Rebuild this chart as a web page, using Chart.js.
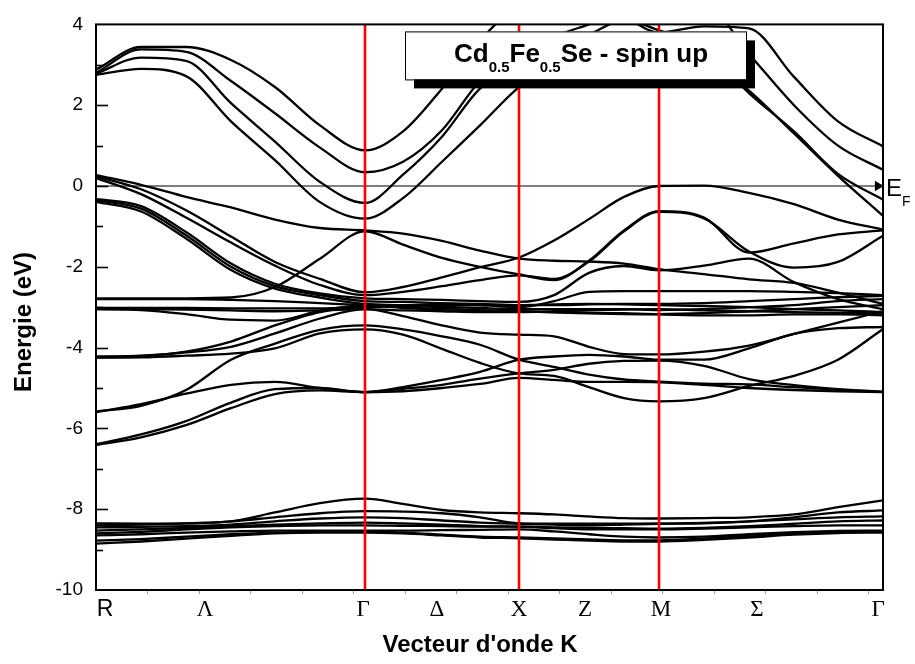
<!DOCTYPE html>
<html>
<head>
<meta charset="utf-8">
<title>Cd0.5Fe0.5Se - spin up</title>
<script src="https://cdn.jsdelivr.net/npm/chart.js@4.4.1/dist/chart.umd.min.js"></script>
<style>
  html, body { margin: 0; padding: 0; background: #fff; }
  #wrap { width: 915px; height: 664px; }
</style>
</head>
<body>
<div id="wrap"><canvas id="bands" width="915" height="664"></canvas></div>
<script>
// k along the path R - Γ - X - M - Γ (fraction of path length)
var kPath = [0, 0.0572, 0.1144, 0.1715, 0.2274, 0.2846, 0.3418, 0.3901, 0.4396, 0.4879,
             0.5375, 0.5820, 0.6264, 0.6709, 0.7154, 0.7726, 0.8297, 0.8869, 0.9428, 1];
var symPoints = [0.3418, 0.5375, 0.7154];   // Γ, X, M
var kLabels = ["R", "Λ", "Γ", "Δ", "X", "Z", "M", "Σ", "Γ"];
var kLabelPos = [0.0114, 0.1385, 0.3393, 0.4333, 0.5375, 0.6213, 0.7179, 0.8399, 0.9937];
var kMark = 0.0654;   // spacing of the small marks under the k axis

// conduction bands (eV)
var cb1 = [2.75, 2.90, 2.72, 1.60, 0.64, -0.40, -0.81, -0.30, 0.60, 1.50, 2.45, 3.00, 3.35, 3.50, 3.55, 3.20, 2.36, 1.30, 0.25, -0.74];
var cb2 = [2.78, 3.18, 3.10, 2.05, 1.10, 0.10, -0.42, 0.28, 1.22, 2.41, 3.00, 3.40, 3.75, 4.10, 3.85, 3.40, 2.30, 1.35, 0.30, -0.34];
var cb3 = [2.80, 3.38, 3.32, 2.60, 1.80, 0.95, 0.34, 0.60, 1.38, 2.60, 3.30, 3.70, 4.00, 4.30, 4.50, 4.50, 3.27, 2.00, 1.00, 0.40];
var cb4 = [2.88, 3.44, 3.44, 3.12, 2.45, 1.50, 0.88, 1.35, 2.41, 3.60, 4.50, 4.80, 4.60, 4.20, 3.80, 3.95, 3.90, 2.70, 1.60, 0.98];

// valence bands
var vb1   = [0.24, -0.08, -0.60, -1.25, -1.88, -2.30, -2.63, -2.50, -2.26, -2.01, -1.77, -1.35, -0.82, -0.27, 0.00, 0.01, -0.17, -0.45, -0.83, -1.08];
var vbA   = [0.27, 0.03, -0.27, -0.53, -0.83, -1.04, -1.10, -1.18, -1.36, -1.60, -1.80, -1.85, -1.87, -1.92, -2.06, -2.18, -2.31, -2.40, -2.64, -2.92];
var vbG   = [-2.78, -2.78, -2.78, -2.76, -2.50, -1.80, -1.12, -1.45, -1.78, -2.00, -2.19, -2.33, -1.85, -1.10, -0.62, -0.78, -1.65, -1.42, -1.20, -1.10];
var vbC   = [0.20, -0.20, -0.78, -1.40, -1.97, -2.45, -2.70, -2.62, -2.48, -2.33, -2.21, -2.30, -1.87, -1.12, -0.64, -0.80, -1.62, -2.02, -1.88, -1.23];
var vbD   = [-0.32, -0.50, -1.14, -1.92, -2.42, -2.66, -2.78, -2.80, -2.82, -2.85, -2.87, -2.70, -2.15, -1.98, -2.09, -1.97, -1.80, -2.38, -2.80, -3.05];
var vbE   = [-0.35, -0.56, -1.22, -2.00, -2.48, -2.70, -2.85, -2.87, -2.90, -2.92, -2.95, -2.95, -2.93, -2.92, -2.92, -2.90, -2.85, -2.80, -2.75, -2.72];
var vbF   = [-0.39, -0.63, -1.30, -2.08, -2.54, -2.76, -2.92, -2.95, -3.00, -3.02, -3.05, -3.05, -3.05, -3.05, -3.07, -3.05, -3.00, -2.95, -2.85, -2.80];
var flat1 = [-2.80, -2.80, -2.80, -2.82, -2.85, -2.90, -2.95, -3.00, -3.05, -3.08, -3.10, -3.12, -3.14, -3.15, -3.17, -3.15, -3.10, -3.05, -3.00, -2.95];
var flat2 = [-3.02, -3.02, -3.02, -3.03, -3.03, -3.03, -3.00, -2.98, -2.97, -2.95, -2.95, -2.93, -2.92, -2.93, -2.95, -2.97, -3.00, -3.05, -3.08, -3.12];
var flat3 = [-3.05, -3.05, -3.06, -3.08, -3.10, -3.08, -3.05, -3.08, -3.10, -3.12, -3.12, -3.10, -3.08, -3.06, -3.05, -3.08, -3.10, -3.12, -3.14, -3.15];
var flat4 = [-3.05, -3.07, -3.17, -3.31, -3.33, -3.09, -2.95, -3.02, -3.05, -3.08, -3.10, -3.13, -3.15, -3.17, -3.18, -3.20, -3.20, -3.18, -3.18, -3.20];
var vbK1  = [-4.22, -4.20, -4.12, -3.98, -3.65, -3.28, -3.05, -3.22, -3.45, -3.63, -3.68, -3.72, -3.98, -4.16, -4.17, -4.10, -3.95, -3.66, -3.38, -3.10];
var vbK2  = [-4.24, -4.21, -4.10, -3.85, -3.45, -3.12, -2.97, -2.95, -2.93, -2.95, -3.00, -2.85, -2.62, -2.60, -2.60, -2.60, -2.60, -2.62, -2.65, -2.70];
var vbM1  = [-5.58, -5.44, -5.05, -4.30, -3.90, -3.56, -3.45, -3.55, -3.72, -3.93, -4.30, -4.48, -4.67, -4.79, -4.84, -4.89, -4.91, -4.98, -5.04, -5.09];
var vbM2  = [-4.25, -4.24, -4.20, -4.15, -4.02, -3.65, -3.55, -3.68, -4.03, -4.38, -4.64, -4.70, -4.98, -5.25, -5.33, -5.25, -4.95, -4.70, -4.30, -3.54];
var vbM3  = [-5.60, -5.40, -5.14, -4.92, -4.85, -5.00, -5.10, -4.98, -4.80, -4.60, -4.30, -4.22, -4.18, -4.22, -4.30, -4.30, -4.02, -3.66, -3.52, -3.49];
var vbM4  = [-6.39, -6.15, -5.82, -5.36, -5.03, -5.00, -5.10, -5.02, -4.92, -4.77, -4.64, -4.55, -4.40, -4.33, -4.32, -4.45, -4.78, -4.93, -5.03, -5.10];
var vbM5  = [-6.41, -6.22, -5.92, -5.50, -5.15, -5.06, -5.10, -5.08, -5.00, -4.90, -4.75, -4.80, -4.85, -4.85, -4.86, -4.92, -5.00, -5.05, -5.08, -5.10];

// deep bands around -8.5 eV
var low1 = [-8.40, -8.38, -8.35, -8.30, -8.08, -7.85, -7.74, -7.87, -8.02, -8.08, -8.10, -8.13, -8.18, -8.22, -8.23, -8.22, -8.20, -8.13, -7.95, -7.78];
var low2 = [-8.35, -8.36, -8.35, -8.30, -8.20, -8.10, -8.05, -8.06, -8.10, -8.20, -8.35, -8.36, -8.36, -8.36, -8.36, -8.34, -8.30, -8.20, -8.08, -8.03];
var low3 = [-8.45, -8.44, -8.42, -8.38, -8.30, -8.23, -8.20, -8.22, -8.28, -8.33, -8.36, -8.38, -8.40, -8.38, -8.36, -8.35, -8.30, -8.25, -8.20, -8.18];
var low4 = [-8.53, -8.50, -8.46, -8.42, -8.38, -8.35, -8.33, -8.35, -8.38, -8.42, -8.43, -8.45, -8.46, -8.47, -8.48, -8.46, -8.42, -8.36, -8.30, -8.28];
var low5 = [-8.60, -8.56, -8.50, -8.45, -8.42, -8.40, -8.40, -8.41, -8.42, -8.43, -8.43, -8.47, -8.50, -8.50, -8.50, -8.48, -8.45, -8.42, -8.40, -8.40];
var low6 = [-8.65, -8.62, -8.58, -8.55, -8.53, -8.53, -8.53, -8.53, -8.52, -8.51, -8.50, -8.55, -8.62, -8.68, -8.70, -8.68, -8.62, -8.57, -8.54, -8.53];
var low7 = [-8.78, -8.74, -8.68, -8.62, -8.58, -8.56, -8.55, -8.58, -8.63, -8.68, -8.70, -8.72, -8.75, -8.77, -8.77, -8.73, -8.66, -8.60, -8.56, -8.55];
var low8 = [-8.85, -8.80, -8.73, -8.66, -8.60, -8.58, -8.58, -8.60, -8.65, -8.70, -8.72, -8.75, -8.78, -8.80, -8.80, -8.76, -8.70, -8.63, -8.59, -8.58];

var bands = [cb1, cb2, cb3, cb4, vb1, vbA, vbG, vbC, vbD, vbE, vbF, flat1, flat2, flat3, flat4,
             vbK1, vbK2, vbM1, vbM2, vbM3, vbM4, vbM5,
             low1, low2, low3, low4, low5, low6, low7, low8];

Chart.defaults.font.family = "'Liberation Sans', Arial, sans-serif";
Chart.defaults.color = "#000";

var datasets = [];

// red lines at the high symmetry points (first = drawn on top)
symPoints.forEach(function (k) {
  datasets.push({
    data: [{x: k, y: -10}, {x: k, y: 4}],
    borderColor: "#ff0000", borderWidth: 2.6, pointRadius: 0
  });
});

bands.forEach(function (b) {
  datasets.push({
    data: b.map(function (e, i) { return {x: kPath[i], y: e}; }),
    borderColor: "#000", borderWidth: 2.3, pointRadius: 0,
    cubicInterpolationMode: "monotone"
  });
});

// Fermi level with arrow head
datasets.push({
  data: [{x: 0, y: 0}, {x: 0.9935, y: 0}],
  borderColor: "#000", borderWidth: 1.2,
  pointRadius: [0, 6], pointStyle: "triangle", rotation: 90,
  pointBackgroundColor: "#000", pointBorderColor: "#000", pointBorderWidth: 0
});

function drawRuns(ctx, runs, x0, y0) {
  var xx = x0;
  runs.forEach(function (r) {
    ctx.font = r.font;
    ctx.fillText(r.t, xx, y0 + (r.dy || 0));
    xx += ctx.measureText(r.t).width;
  });
}

var decor = {
  id: "decor",
  afterDatasetsDraw: function (chart) {
    var ctx = chart.ctx, a = chart.chartArea, x = chart.scales.x, y = chart.scales.y;
    ctx.save();

    // frame
    ctx.strokeStyle = "#000";
    ctx.lineWidth = 2;
    ctx.strokeRect(a.left, a.top, a.right - a.left, a.bottom - a.top);

    // inner ticks on energy axis
    ctx.lineWidth = 1.6;
    for (var v = -9; v <= 3; v++) {
      var py = Math.round(y.getPixelForValue(v)) + 0.5;
      var len = (v % 2 === 0) ? 12 : 7;
      ctx.beginPath(); ctx.moveTo(a.left, py); ctx.lineTo(a.left + len, py); ctx.stroke();
    }

    // little marks under the k axis
    ctx.strokeStyle = "#999";
    ctx.lineWidth = 1;
    for (var i = 1; i <= 15; i++) {
      var px = Math.round(x.getPixelForValue(i * kMark)) + 0.5;
      ctx.beginPath(); ctx.moveTo(px, a.bottom + 1); ctx.lineTo(px, a.bottom + 4); ctx.stroke();
    }

    // title box with shadow
    var bx = a.left + 309, by = a.top + 7, bw = 341, bh = 48;
    ctx.fillStyle = "#000";
    ctx.fillRect(bx + 9, by + 9, bw, bh);
    ctx.fillStyle = "#fff";
    ctx.fillRect(bx, by, bw, bh);
    ctx.strokeStyle = "#000";
    ctx.lineWidth = 1;
    ctx.strokeRect(bx + 0.5, by + 0.5, bw, bh);
    ctx.fillStyle = "#000";
    ctx.textBaseline = "alphabetic";
    ctx.textAlign = "left";
    var big = "bold 26px 'Liberation Sans', Arial", small = "bold 15px 'Liberation Sans', Arial";
    drawRuns(ctx, [
      {t: "Cd", font: big}, {t: "0.5", font: small, dy: 10},
      {t: "Fe", font: big}, {t: "0.5", font: small, dy: 10},
      {t: "Se - spin up", font: big}
    ], bx + 49, by + 31);

    // E_F label
    var y0 = y.getPixelForValue(0);
    drawRuns(ctx, [
      {t: "E", font: "24px 'Liberation Sans', Arial"},
      {t: "F", font: "14px 'Liberation Sans', Arial", dy: 10}
    ], a.right + 3, y0 + 10);

    // axis titles
    ctx.font = "bold 24px 'Liberation Sans', Arial";
    ctx.textAlign = "center";
    ctx.textBaseline = "middle";
    ctx.fillText("Vecteur d'onde K", 480, 645);
    ctx.translate(24, 322);
    ctx.rotate(-Math.PI / 2);
    ctx.fillText("Energie (eV)", 0, 0);

    ctx.restore();
  }
};

new Chart(document.getElementById("bands"), {
  type: "line",
  data: { datasets: datasets },
  plugins: [decor],
  options: {
    responsive: false,
    animation: false,
    events: [],
    layout: { padding: { top: 20, right: 32, left: 0, bottom: 0 } },
    plugins: { legend: { display: false }, tooltip: { enabled: false } },
    scales: {
      x: {
        type: "linear", min: 0, max: 1, position: "bottom",
        grid: { display: false, drawTicks: false },
        border: { display: false },
        afterBuildTicks: function (scale) {
          scale.ticks = kLabelPos.map(function (v) { return {value: v}; });
        },
        afterFit: function (scale) { scale.height = 74; },
        ticks: {
          autoSkip: false, maxRotation: 0, padding: 6, color: "#000",
          callback: function (v, i) { return kLabels[i]; },
          font: function (c) {
            return c.index === 0 ? {family: "'Liberation Sans', Arial", size: 23}
                                 : {family: "'Liberation Serif', 'Times New Roman', serif", size: 23};
          }
        }
      },
      y: {
        min: -10, max: 4,
        grid: { display: false, drawTicks: false },
        border: { display: false },
        afterFit: function (scale) { scale.width = 96; },
        ticks: {
          stepSize: 2, padding: 13, color: "#000",
          font: { size: 19 },
          callback: function (v) { return String(v); }
        }
      }
    }
  }
});
</script>
</body>
</html>
